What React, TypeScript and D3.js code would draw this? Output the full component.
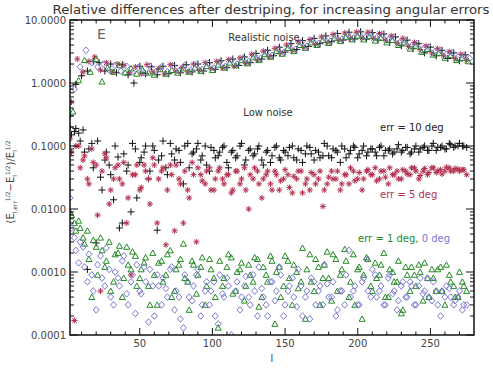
import React from 'react';
import * as d3 from 'd3';

// realistic noise, one value every 4 multipoles (start l differs per series)
const realErr10 = [0.3, 0.95, 1.3, 1.55, 2.2, 2.1, 1.55, 2.0, 1.45, 1.95,
  1.35, 1.0, 1.85, 1.4, 1.8, 1.35, 1.85, 1.4, 1.9, 1.45,
  1.95, 1.5, 2.0, 1.55, 2.1, 1.65, 2.25, 1.75, 2.4, 1.9,
  2.6, 2.1, 2.95, 2.4, 3.3, 2.7, 3.7, 3.1, 4.2, 3.4,
  4.7, 3.8, 5.1, 4.2, 5.6, 4.5, 6.1, 4.8, 6.4, 5.0,
  6.5, 5.0, 6.3, 4.8, 6.0, 4.4, 5.4, 3.9, 4.8, 3.5,
  4.2, 3.0, 3.7, 2.7, 3.3, 2.45, 3.0, 2.25, 2.8];
const realErr5 = [0.5, 2.4, 1.5, 2.2, 2.6, 1.6, 2.1, 1.5, 2.0, 1.9,
  1.45, 1.8, 1.4, 1.95, 1.5, 1.7, 1.4, 1.95, 1.55, 1.75,
  1.5, 2.0, 1.6, 2.1, 1.7, 2.2, 1.75, 2.35, 1.85, 2.5,
  2.05, 2.85, 2.3, 3.2, 2.6, 3.55, 3.0, 4.0, 3.3, 4.5,
  3.7, 4.9, 4.1, 5.4, 4.4, 5.9, 4.8, 6.2, 5.1, 6.4,
  5.2, 6.4, 5.1, 6.1, 4.8, 5.6, 4.3, 5.1, 3.8, 4.4,
  3.4, 3.9, 3.0, 3.5, 2.7, 3.15, 2.45, 2.85, 2.3];
const realErr1 = [0.35, 1.1, 2.3, 1.5, 2.4, 1.05, 1.75, 1.5, 1.9, 1.45,
  1.7, 1.4, 1.6, 1.45, 1.35, 1.65, 1.4, 1.6, 1.45, 1.7,
  1.5, 1.75, 1.55, 1.85, 1.6, 1.95, 1.75, 2.1, 1.9, 2.3,
  2.05, 2.55, 2.3, 2.85, 2.6, 3.2, 2.9, 3.6, 3.2, 4.0,
  3.6, 4.4, 4.0, 4.8, 4.3, 5.2, 4.6, 5.4, 4.9, 5.6,
  4.9, 5.5, 4.7, 5.2, 4.4, 4.8, 4.0, 4.4, 3.5, 3.9,
  3.1, 3.45, 2.8, 3.0, 2.5, 2.75, 2.3, 2.5, 2.2];
const realErr0 = [0.8, 1.8, 3.3, 2.1, 1.8, 2.0, 1.6, 1.9, 1.55, 1.85,
  1.5, 1.75, 1.45, 1.85, 1.5, 1.8, 1.5, 1.85, 1.55, 1.9,
  1.6, 1.95, 1.65, 2.05, 1.75, 2.15, 1.85, 2.3, 2.0, 2.45,
  2.2, 2.7, 2.45, 3.05, 2.75, 3.45, 3.05, 3.9, 3.4, 4.35,
  3.85, 4.75, 4.25, 5.2, 4.6, 5.6, 4.95, 5.95, 5.2, 6.1,
  5.4, 6.0, 5.2, 5.8, 4.9, 5.3, 4.4, 4.7, 3.9, 4.2,
  3.5, 3.7, 3.15, 3.3, 2.85, 3.0, 2.6, 2.7, 2.45];

// low noise, one value every 3 multipoles starting at l = 2 (a) and l = 3 (b)
const lowErr10a = [0.2, 0.17, 0.16, 0.18, 0.0011, 0.11, 0.0029, 0.032, 0.06, 0.05,
  0.014, 0.067, 0.006, 0.04, 0.009, 0.09, 0.055, 0.08, 0.03, 0.1,
  0.0046, 0.07, 0.045, 0.11, 0.06, 0.085, 0.025, 0.11, 0.075, 0.09,
  0.06, 0.1, 0.04, 0.085, 0.07, 0.095, 0.055, 0.08, 0.065, 0.1,
  0.05, 0.085, 0.07, 0.09, 0.06, 0.08, 0.055, 0.095, 0.065, 0.085,
  0.07, 0.1, 0.06, 0.085, 0.075, 0.095, 0.06, 0.08, 0.07, 0.1,
  0.065, 0.085, 0.055, 0.09, 0.075, 0.1, 0.065, 0.085, 0.07, 0.09,
  0.08, 0.095, 0.07, 0.085, 0.075, 0.09, 0.08, 0.095, 0.075, 0.09,
  0.08, 0.095, 0.085, 0.1, 0.085, 0.095, 0.09, 0.11, 0.095, 0.1,
  0.1, 0.095];
const lowErr10b = [0.15, 0.19, 0.12, 0.08, 0.09, 0.045, 0.12, 0.02, 0.08, 0.035,
  0.1, 0.005, 0.075, 0.05, 0.11, 0.015, 0.065, 0.1, 0.04, 0.085,
  0.06, 0.12, 0.035, 0.075, 0.09, 0.055, 0.1, 0.045, 0.08, 0.11,
  0.07, 0.05, 0.095, 0.065, 0.08, 0.1, 0.045, 0.085, 0.07, 0.11,
  0.06, 0.09, 0.075, 0.1, 0.05, 0.085, 0.07, 0.1, 0.06, 0.08,
  0.095, 0.065, 0.09, 0.055, 0.1, 0.075, 0.085, 0.065, 0.11, 0.07,
  0.09, 0.08, 0.1, 0.065, 0.085, 0.095, 0.075, 0.1, 0.08, 0.09,
  0.07, 0.1, 0.085, 0.09, 0.08, 0.105, 0.085, 0.095, 0.08, 0.1,
  0.09, 0.1, 0.085, 0.11, 0.095, 0.1, 0.09, 0.105, 0.1, 0.11,
  0.1];
const lowErr5a = [0.13, 0.00017, 0.1, 0.06, 0.03, 0.09, 0.05, 0.0005, 0.075, 0.012,
  0.03, 0.05, 0.025, 0.006, 0.0009, 0.035, 0.02, 0.05, 0.03, 0.065,
  0.006, 0.04, 0.0027, 0.05, 0.0045, 0.03, 0.006, 0.02, 0.055, 0.003,
  0.035, 0.025, 0.045, 0.02, 0.04, 0.03, 0.035, 0.018, 0.04, 0.025,
  0.045, 0.01, 0.03, 0.04, 0.015, 0.035, 0.025, 0.04, 0.02, 0.03,
  0.035, 0.018, 0.03, 0.04, 0.025, 0.02, 0.035, 0.03, 0.011, 0.025,
  0.04, 0.03, 0.02, 0.035, 0.025, 0.04, 0.03, 0.02, 0.04, 0.035,
  0.045, 0.03, 0.04, 0.025, 0.035, 0.04, 0.03, 0.04, 0.035, 0.045,
  0.03, 0.04, 0.035, 0.045, 0.038, 0.042, 0.04, 0.045, 0.04, 0.043,
  0.042, 0.035];
const lowErr5b = [0.08, 0.1, 0.045, 0.07, 0.025, 0.055, 0.008, 0.04, 0.065, 0.02,
  0.045, 0.03, 0.055, 0.015, 0.035, 0.05, 0.022, 0.04, 0.012, 0.05,
  0.03, 0.045, 0.02, 0.035, 0.05, 0.025, 0.04, 0.015, 0.035, 0.045,
  0.028, 0.04, 0.02, 0.03, 0.045, 0.025, 0.035, 0.02, 0.04, 0.03,
  0.02, 0.035, 0.045, 0.025, 0.03, 0.04, 0.02, 0.035, 0.028, 0.042,
  0.022, 0.033, 0.04, 0.018, 0.03, 0.038, 0.025, 0.04, 0.02, 0.032,
  0.03, 0.04, 0.025, 0.035, 0.045, 0.028, 0.038, 0.03, 0.042, 0.035,
  0.028, 0.04, 0.032, 0.045, 0.035, 0.03, 0.042, 0.036, 0.045, 0.04,
  0.034, 0.044, 0.038, 0.045, 0.04, 0.036, 0.046, 0.04, 0.044, 0.04,
  0.042];
const lowErr1a = [0.009, 0.006, 0.0065, 0.0035, 0.0045, 0.0004, 0.0025, 0.0035, 0.0012, 0.003,
  0.0007, 0.002, 0.0004, 0.0025, 0.0011, 0.0018, 0.0008, 0.0014, 0.0006, 0.002,
  0.0003, 0.0015, 0.0009, 0.0022, 0.0005, 0.0013, 0.0028, 0.0007, 0.0015, 0.00045,
  0.0012, 0.0003, 0.0016, 0.0008, 0.00013, 0.0006, 0.0012, 0.0017, 0.0005, 0.0011,
  0.00035, 0.0013, 0.0007, 0.0016, 0.0004, 0.0009, 0.0018, 0.00015, 0.0012, 0.0006,
  0.0015, 0.0003, 0.001, 0.0007, 0.00018, 0.0019, 0.0005, 0.0012, 0.0008, 0.0021,
  0.00035, 0.0016, 0.0009, 0.0023, 0.0004, 0.0019, 0.0011, 0.00018, 0.0017, 0.0006,
  0.0014, 0.0009, 0.002, 0.0004, 0.001, 0.0007, 0.00022, 0.0012, 0.0005, 0.0009,
  0.0013, 0.00035, 0.0008, 0.0011, 0.0005, 0.0012, 0.0003, 0.0009, 0.0006, 0.0004,
  0.0007, 0.0005];
const lowErr1b = [0.008, 0.0045, 0.005, 0.0028, 0.0016, 0.0032, 0.0009, 0.0022, 0.0015, 0.0005,
  0.0019, 0.0026, 0.0008, 0.0013, 0.0021, 0.0006, 0.0011, 0.0017, 0.0003, 0.0009,
  0.0014, 0.0007, 0.0019, 0.0004, 0.0011, 0.0016, 0.0008, 0.00025, 0.0013, 0.0009,
  0.0017, 0.0006, 0.0011, 0.0004, 0.0015, 0.0008, 0.0019, 0.00045, 0.001, 0.0014,
  0.0006, 0.0009, 0.0017, 0.00028, 0.0012, 0.0007, 0.0015, 0.001, 0.0004, 0.0018,
  0.0008, 0.0013, 0.00055, 0.0024, 0.0011, 0.0007, 0.0016, 0.0003, 0.0013, 0.0008,
  0.0019, 0.0005, 0.0011, 0.0015, 0.0007, 0.0003, 0.0012, 0.0009, 0.0016, 0.0005,
  0.0008, 0.0013, 0.0004, 0.0011, 0.0007, 0.0015, 0.00025, 0.0009, 0.0012, 0.0006,
  0.001, 0.0014, 0.0004, 0.0008, 0.0011, 0.0005, 0.0013, 0.0007, 0.0004, 0.001,
  0.0006];
const lowErr0a = [0.015, 0.0035, 0.0014, 0.0025, 0.0007, 0.0009, 0.00025, 0.0018, 0.0006, 0.0011,
  0.0003, 0.0008, 0.0015, 0.00045, 0.0007, 0.00022, 0.0005, 0.0012, 0.00016, 0.0006,
  0.0009, 0.0003, 0.00055, 0.0011, 0.00025, 0.0004, 0.00013, 0.0007, 0.00035, 0.0009,
  0.0002, 0.0005, 0.0003, 0.0007, 0.00015, 0.00045, 0.0008, 0.0001, 0.0005, 0.00025,
  0.0006, 0.0004, 0.0009, 0.0002, 0.00055, 0.0003, 0.0007, 0.00035, 0.0012, 0.0002,
  0.0005, 0.0008, 0.00028, 0.0006, 0.0004, 0.00018, 0.0007, 0.0005, 0.0003, 0.00065,
  0.0004, 0.0002, 0.0005, 0.0003, 0.0022, 0.0005, 0.0003, 0.0007, 0.0016, 0.0004,
  0.0009, 0.0005, 0.0003, 0.0008, 0.00045, 0.00025, 0.0006, 0.0004, 0.0007, 0.0003,
  0.0006, 0.00045, 0.0008, 0.00035, 0.0005, 0.0002, 0.0004, 0.00055, 0.0003, 0.0004,
  0.00025, 0.0003];
const lowErr0b = [0.005, 0.0022, 0.003, 0.0012, 0.0019, 0.0005, 0.0013, 0.0008, 0.0024, 0.0004,
  0.001, 0.0006, 0.0018, 0.0003, 0.0009, 0.0013, 0.00045, 0.0007, 0.0011, 0.0002,
  0.0006, 0.0008, 0.0004, 0.0012, 0.0005, 0.00018, 0.0009, 0.0004, 0.0006, 0.0011,
  0.0003, 0.0007, 0.0005, 0.0002, 0.0009, 0.0004, 0.0006, 0.00009, 0.0007, 0.0004,
  0.00085, 0.0003, 0.0005, 0.0012, 0.0004, 0.0002, 0.0007, 0.0005, 0.0009, 0.0003,
  0.0006, 0.0004, 0.0011, 0.0002, 0.0005, 0.0008, 0.0003, 0.0006, 0.0013, 0.0004,
  0.0007, 0.00025, 0.0005, 0.0009, 0.0004, 0.0006, 0.0003, 0.0008, 0.0005, 0.0011,
  0.0004, 0.0006, 0.0003, 0.0009, 0.0005, 0.00035, 0.0007, 0.0004, 0.0006, 0.0003,
  0.0008, 0.0005, 0.0004, 0.0007, 0.0003, 0.0005, 0.0006, 0.0004, 0.00035, 0.0005,
  0.0003];

const yTickValues = [0.0001, 0.001, 0.01, 0.1, 1, 10];
const xTickValues = [50, 100, 150, 200, 250];

const W = 493;
const H = 374;
const plot = { left: 70, right: 474, top: 20, bottom: 335 };

const BLACK = '#111111';
const RED = '#b3304f';
const GREEN = '#238a23';
const PURPLE = '#7a78d2';

type Shape = 'plus' | 'star' | 'tri' | 'diamond';

const markerPath = (shape: Shape) => {
  if (shape === 'plus') return 'M-3.5,0H3.5M0,-3.5V3.5';
  if (shape === 'star') return 'M-3,0H3M0,-3V3M-2.2,-2.2L2.2,2.2M-2.2,2.2L2.2,-2.2';
  if (shape === 'tri') return 'M0,-3L3,2.4L-3,2.4Z';
  return 'M0,-3.3L3,0L0,3.3L-3,0Z';
};

const series = [
  { values: lowErr10a, start: 2, step: 3, color: BLACK, shape: 'plus' as Shape },
  { values: lowErr10b, start: 3, step: 3, color: BLACK, shape: 'plus' as Shape },
  { values: lowErr5a, start: 2, step: 3, color: RED, shape: 'star' as Shape },
  { values: lowErr5b, start: 3, step: 3, color: RED, shape: 'star' as Shape },
  { values: lowErr1a, start: 2, step: 3, color: GREEN, shape: 'tri' as Shape },
  { values: lowErr1b, start: 3, step: 3, color: GREEN, shape: 'tri' as Shape },
  { values: lowErr0a, start: 2, step: 3, color: PURPLE, shape: 'diamond' as Shape },
  { values: lowErr0b, start: 3, step: 3, color: PURPLE, shape: 'diamond' as Shape },
  { values: realErr10, start: 2, step: 4, color: BLACK, shape: 'plus' as Shape },
  { values: realErr5, start: 3, step: 4, color: RED, shape: 'star' as Shape },
  { values: realErr1, start: 4, step: 4, color: GREEN, shape: 'tri' as Shape },
  { values: realErr0, start: 5, step: 4, color: PURPLE, shape: 'diamond' as Shape },
];

export default function App() {
  const x = d3.scaleLinear().domain([2, 280]).range([plot.left, plot.right]);
  const y = d3.scaleLog().domain([0.0001, 10]).range([plot.bottom, plot.top]);

  const xMinor = d3.range(10, 280, 10);
  const yMinor = y.ticks(); // 1..9 x 10^k
  const fmt = d3.format('.4f');
  const font = 'DejaVu Sans, sans-serif';

  return (
    <div style={{ position: 'absolute', left: 0, top: 0 }}>
      <svg width={W} height={H} style={{ display: 'block', background: '#fff' }}>
        <defs>
          <clipPath id="plotclip">
            <rect x={plot.left} y={plot.top} width={plot.right - plot.left} height={plot.bottom - plot.top} />
          </clipPath>
        </defs>

        <text x={271} y={14} textAnchor="middle" fontFamily={font} fontSize={12} fill="#333"
          textLength={437} lengthAdjust="spacingAndGlyphs">
          Relative differences after destriping, for increasing angular errors
        </text>

        <g clipPath="url(#plotclip)">
          {series.map((s, si) => (
            <g key={si} fill="none" stroke={s.color} strokeWidth={1}>
              {s.values.map((v, i) => (
                <path key={i} d={markerPath(s.shape)}
                  transform={`translate(${x(s.start + i * s.step).toFixed(1)},${y(v).toFixed(1)})`} />
              ))}
            </g>
          ))}
        </g>

        {/* frame */}
        <rect x={plot.left} y={plot.top} width={plot.right - plot.left} height={plot.bottom - plot.top}
          fill="none" stroke="#111" strokeWidth={1.5} />

        {/* ticks on all four sides, pointing inward */}
        <g stroke="#111" strokeWidth={1}>
          {xMinor.map(t => {
            const len = t % 50 === 0 ? 7 : 3.5;
            return (
              <g key={t}>
                <line x1={x(t)} x2={x(t)} y1={plot.bottom} y2={plot.bottom - len} />
                <line x1={x(t)} x2={x(t)} y1={plot.top} y2={plot.top + len} />
              </g>
            );
          })}
          {yMinor.map(t => {
            const major = yTickValues.some(v => Math.abs(v - t) / v < 1e-6);
            const len = major ? 8 : 4;
            return (
              <g key={t}>
                <line x1={plot.left} x2={plot.left + len} y1={y(t)} y2={y(t)} />
                <line x1={plot.right} x2={plot.right - len} y1={y(t)} y2={y(t)} />
              </g>
            );
          })}
        </g>

        <g fontFamily={font} fontSize={10} fill="#444">
          {xTickValues.map(t => (
            <text key={t} x={x(t)} y={347} textAnchor="middle">{t}</text>
          ))}
          {yTickValues.map(t => (
            <text key={t} x={66} y={y(t) + 4} textAnchor="end">{fmt(t)}</text>
          ))}
          <text x={272} y={362} textAnchor="middle">l</text>
        </g>

        <text transform="translate(14,182) rotate(-90)" textAnchor="middle" fontFamily={font} fontSize={10} fill="#444">
          (E<tspan fontSize={6} dy={3}>l,err</tspan>
          <tspan fontSize={6} dy={-7}>1/2</tspan>
          <tspan dy={4}>−E</tspan>
          <tspan fontSize={6} dy={3}>l</tspan>
          <tspan fontSize={6} dy={-7}>1/2</tspan>
          <tspan dy={4}>)/E</tspan>
          <tspan fontSize={6} dy={3}>l</tspan>
          <tspan fontSize={6} dy={-7}>1/2</tspan>
        </text>

        <g fontFamily={font} fontSize={10}>
          <text x={97} y={39} fontSize={14} fill="#666">E</text>
          <text x={264} y={41} textAnchor="middle" fill="#333">Realistic noise</text>
          <text x={268} y={116} textAnchor="middle" fill="#333">Low noise</text>
          <text x={380} y={131} fill="#222">err = 10 deg</text>
          <text x={380} y={198} fill={RED}>err = 5 deg</text>
          <text x={358} y={242}>
            <tspan fill={GREEN}>err = 1 deg, </tspan>
            <tspan fill={PURPLE}>0 deg</tspan>
          </text>
        </g>
      </svg>
    </div>
  );
}
